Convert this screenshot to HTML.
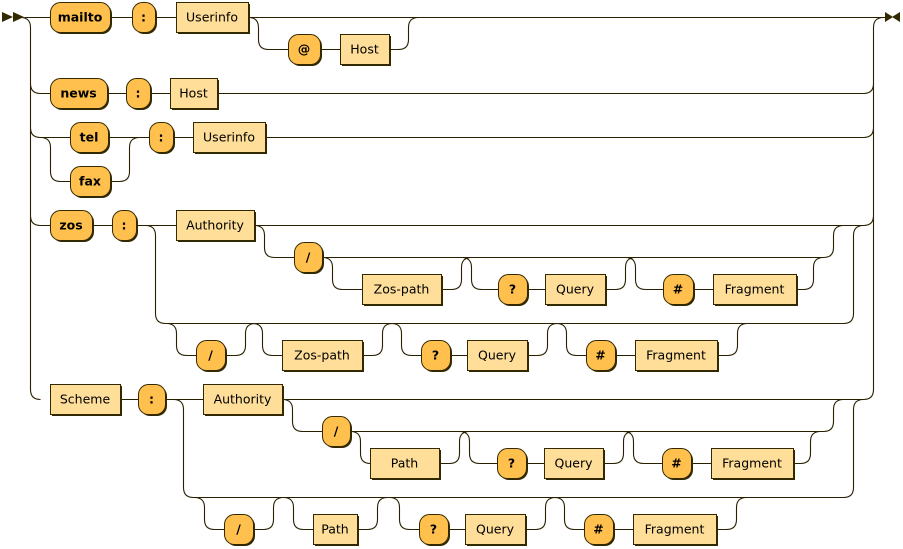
<!DOCTYPE html>
<html><head><meta charset="utf-8"><style>
html,body{margin:0;padding:0;background:#fff}
svg{display:block}
text{font-family:"DejaVu Sans","Liberation Sans",sans-serif;font-size:12.5px;fill:#000;dominant-baseline:central;text-anchor:middle}
.t{font-weight:bold}
path.l{fill:none;stroke:#2a2000;stroke-width:1.1}
</style></head><body>
<svg id="d" width="903" height="549" viewBox="0 0 903 549" xmlns="http://www.w3.org/2000/svg">
<g id="lines" transform="translate(0.5,0.5)"></g>
<g id="boxes"></g>
<polygon points="2,12 13,17 2,22" fill="#332900"/>
<polygon points="13,12 24,17 13,22" fill="#332900"/>
<polygon points="885,12 893,17 885,22" fill="#332900"/>
<polygon points="900,12 892,17 900,22" fill="#332900"/>
</svg>
<script>
const NS='http://www.w3.org/2000/svg';
const L=document.getElementById('lines'),B=document.getElementById('boxes');
let ds=[];
function p(d){ds.push(d);}
function h(x1,x2,y){p(`M${x1} ${y}H${x2}`);}
function down(x,y0,y1){p(`M${x-10} ${y0}Q${x} ${y0} ${x} ${y0+10}V${y1-10}Q${x} ${y1} ${x+10} ${y1}`);}
function up(x,y1,y0){p(`M${x-10} ${y1}Q${x} ${y1} ${x} ${y1-10}V${y0+10}Q${x} ${y0} ${x+10} ${y0}`);}
function box(x1,x2,y,label,term){
  const g=document.createElementNS(NS,'g');
  
  
  const rx=term?10:0;
  g.innerHTML=`<rect x="${x1+2}" y="${y-13}" width="${x2-x1}" height="30" rx="${rx}" fill="#332900"/>`+
  `<rect x="${x1+0.5}" y="${y-14.5}" width="${x2-x1}" height="30" rx="${rx}" fill="${term?'#FFC04D':'#FEDE99'}" stroke="#332900" stroke-width="1"/>`+
  `<text x="${(x1+x2)/2}" y="${y}" class="${term?'t':''}">${label}</text>`;
  B.appendChild(g);
}
h(24,50,17);
p('M20 17Q30 17 30 27V389Q30 399 40 399');
p('M863 399Q873 399 873 389V27Q873 17 883 17');
h(863,885,17);
[93,137,225].forEach(y=>{p(`M30 ${y-10}Q30 ${y} 40 ${y}`);p(`M863 ${y}Q873 ${y} 873 ${y-10}`);});
box(50,110,17,'mailto',1);box(132,155,17,':',1);box(176,248,17,'Userinfo',0);
h(110,176,17);h(248,863,17);
down(258,17,49);h(268,288,49);box(288,320,49,'@',1);h(320,340,49);box(340,389,49,'Host',0);h(389,398,49);up(408,49,17);
h(40,50,93);box(50,107,93,'news',1);h(107,126,93);box(126,150,93,':',1);h(150,170,93);box(170,217,93,'Host',0);h(217,863,93);
h(40,70,137);down(50,137,181);h(60,70,181);
box(70,108,137,'tel',1);box(70,110,181,'fax',1);h(108,149,137);h(110,119,181);up(129,181,137);
box(149,173,137,':',1);h(173,193,137);box(193,265,137,'Userinfo',0);h(265,863,137);
function section(y,x0,lx,xa1,xa2,pathLabel,parts,lowParts,lowY){
  h(x0,xa1,y);box(xa1,xa2,y,'Authority',0);h(xa2,863,y);
  const ys=y+32,yp=y+64;
  const [sx,s1,s2,pdx,p1,p2,q1,q2,qu1,qu2,hh1,hh2,f1,f2]=parts;
  down(sx,y,ys);h(sx+10,s1,ys);box(s1,s2,ys,'/',1);h(s2,833-10,ys);up(833,ys,y);
  down(pdx,ys,yp);h(pdx+10,p1,yp);box(p1,p2,yp,pathLabel,0);h(p2,p2+10,yp);up(p2+20,yp,ys);
  down(p2+30,ys,yp);h(p2+40,q1,yp);box(q1,q2,yp,'?',1);h(q2,qu1,yp);box(qu1,qu2,yp,'Query',0);h(qu2,qu2+10,yp);up(qu2+20,yp,ys);
  down(qu2+30,ys,yp);h(qu2+40,hh1,yp);box(hh1,hh2,yp,'#',1);h(hh2,f1,yp);box(f1,f2,yp,'Fragment',0);h(f2,f2+7,yp);up(f2+17,yp,ys);
  const ly=lowY,lb=ly+32;
  down(lx,y,ly);h(lx+10,843,ly);up(853,ly,y);
  const [a1,a2,b1,b2,c1,c2,cq1,cq2,d1,d2,e1,e2]=lowParts;
  down(a1-20,ly,lb);h(a1-10,a1,lb);box(a1,a2,lb,'/',1);h(a2,a2+10,lb);up(a2+20,lb,ly);
  down(b1-20,ly,lb);h(b1-10,b1,lb);box(b1,b2,lb,pathLabel,0);h(b2,b2+10,lb);up(b2+20,lb,ly);
  down(c1-20,ly,lb);h(c1-10,c1,lb);box(c1,c2,lb,'?',1);h(c2,cq1,lb);box(cq1,cq2,lb,'Query',0);h(cq2,cq2+10,lb);up(cq2+20,lb,ly);
  down(d1-20,ly,lb);h(d1-10,d1,lb);box(d1,d2,lb,'#',1);h(d2,e1,lb);box(e1,e2,lb,'Fragment',0);h(e2,e2+10,lb);up(e2+20,lb,ly);
}
h(40,50,225);box(50,92,225,'zos',1);h(92,112,225);box(112,136,225,':',1);
section(225,136,155,176,254,'Zos-path',[264,294,322,332,362,441,498,527,545,605,663,693,713,796],[196,225,282,362,421,450,467,527,586,615,635,717],323);
box(50,120,399,'Scheme',0);h(120,138,399);box(138,165,399,':',1);
section(399,165,183,203,282,'Path',[292,322,350,360,370,439,497,526,544,603,662,691,711,793],[224,253,313,357,419,448,465,525,584,613,633,716],497);
const path=document.createElementNS(NS,'path');


path.setAttribute('class','l');
path.setAttribute('d',ds.join(''));
L.appendChild(path);
</script>
</body></html>
